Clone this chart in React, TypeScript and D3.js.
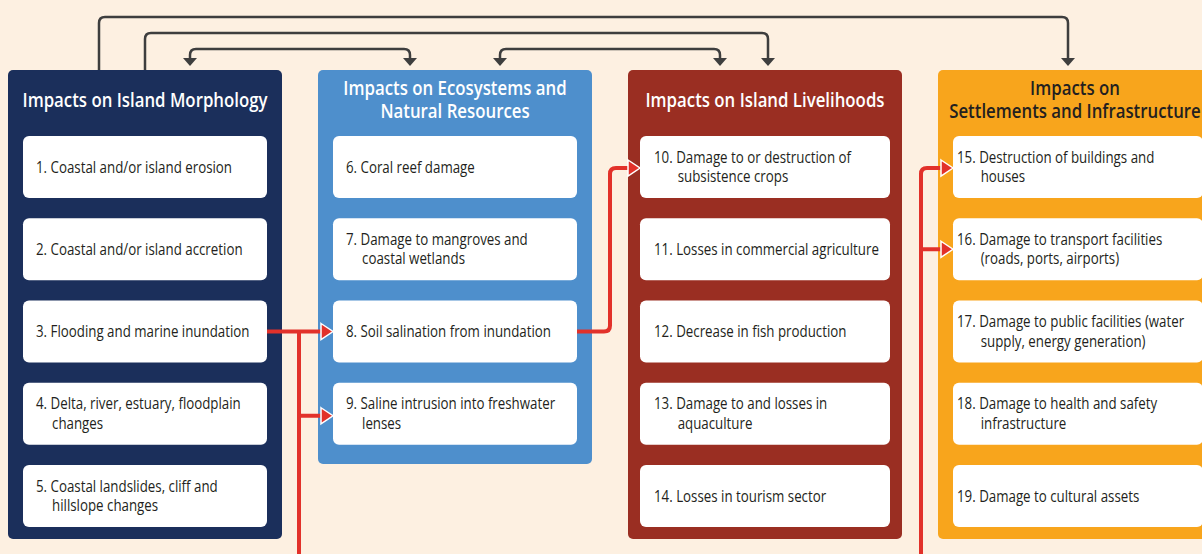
import React, { useEffect, useRef } from "react";
import * as d3 from "d3";

// ---------- DATA ----------
const panelTitles: string[][] = [
  ["Impacts on Island Morphology"],
  ["Impacts on Ecosystems and", "Natural Resources"],
  ["Impacts on Island Livelihoods"],
  ["Impacts on", "Settlements and Infrastructure"],
];

const morphologyItems: string[][] = [
  ["1. Coastal and/or island erosion"],
  ["2. Coastal and/or island accretion"],
  ["3. Flooding and marine inundation"],
  ["4. Delta, river, estuary, floodplain", "changes"],
  ["5. Coastal landslides, cliff and", "hillslope changes"],
];

const ecosystemItems: string[][] = [
  ["6. Coral reef damage"],
  ["7. Damage to mangroves and", "coastal wetlands"],
  ["8. Soil salination from inundation"],
  ["9. Saline intrusion into freshwater", "lenses"],
];

const livelihoodItems: string[][] = [
  ["10. Damage to or destruction of", "subsistence crops"],
  ["11. Losses in commercial agriculture"],
  ["12. Decrease in fish production"],
  ["13. Damage to and losses in", "aquaculture"],
  ["14. Losses in tourism sector"],
];

const settlementItems: string[][] = [
  ["15. Destruction of buildings and", "houses"],
  ["16. Damage to transport facilities", "(roads, ports, airports)"],
  ["17. Damage to public facilities (water", "supply, energy generation)"],
  ["18. Damage to health and safety", "infrastructure"],
  ["19. Damage to cultural assets"],
];

const panelItems = [morphologyItems, ecosystemItems, livelihoodItems, settlementItems];

// top (dark) links: source panel/anchor -> target panel/anchor, level, both-headed?
const topLinks = [
  { from: 0, fromAnchor: 0, to: 3, toAnchor: 0, level: 0, both: false },
  { from: 0, fromAnchor: 1, to: 2, toAnchor: 1, level: 1, both: false },
  { from: 0, fromAnchor: 2, to: 1, toAnchor: 0, level: 2, both: true },
  { from: 1, fromAnchor: 2, to: 2, toAnchor: 0, level: 2, both: true },
];

// ---------- STYLE / LAYOUT ----------
const W = 1202;
const H = 554;
const panelFill = ["#1B2F5B", "#4E8FCC", "#9A2E22", "#F8A51C"];
const titleFill = ["#FFFFFF", "#FFFFFF", "#FFFFFF", "#231F20"];
const panelW = 274;
const panelTop = 70;
const panelBottom = [539, 464, 539, 539];
const boxInset = [15, 15, 12, 15];
const boxW = [244, 244, 250, 250];
const textInset = [13, 13, 14, 4];
const boxH = 62;
const anchorOffsets = [
  [91, 137, 182],
  [92, 137, 182],
  [92, 140, 182],
  [130, 137, 182],
];
const levelScale = d3.scaleLinear().domain([0, 2]).range([17, 49]);
const FONT = "'Open Sans', 'Noto Sans', sans-serif";
const BODY_SIZE = 16;
const TITLE_SIZE = 19;
const BODY_REF = { text: "1. Coastal and/or island erosion", width: 196 };
const TITLE_REF = { text: "Impacts on Island Morphology", width: 245 };
const DARK = "#3E3E3E";
const RED = "#E2312A";

export default function App() {
  const ref = useRef<SVGSVGElement | null>(null);

  useEffect(() => {
    const svg = d3.select(ref.current);
    svg.selectAll("*").remove();

    const measure = (s: string, size: number, weight: string) => {
      const m = svg
        .append("text")
        .attr("font-family", FONT)
        .attr("font-size", size)
        .attr("font-weight", weight)
        .style("white-space", "pre")
        .text(s);
      const w = (m.node() as SVGTextElement).getComputedTextLength();
      m.remove();
      return w;
    };
    const bodyK = BODY_REF.width / measure(BODY_REF.text, BODY_SIZE, "normal");
    const titleK = TITLE_REF.width / measure(TITLE_REF.text, TITLE_SIZE, "600");

    const addText = (
      s: string,
      x: number,
      y: number,
      size: number,
      weight: string,
      fill: string,
      k: number,
      anchor: string
    ) => {
      const w = measure(s, size, weight) * k;
      svg
        .append("text")
        .attr("x", x)
        .attr("y", y)
        .attr("font-family", FONT)
        .attr("font-size", size)
        .attr("font-weight", weight)
        .attr("fill", fill)
        .attr("text-anchor", anchor)
        .attr("textLength", w)
        .attr("lengthAdjust", "spacingAndGlyphs")
        .text(s);
    };

    const xPanel = d3.scaleLinear().domain([0, 3]).range([8, 938]);
    const yRow = d3.scaleLinear().domain([0, 4]).range([136, 465]);

    svg.append("rect").attr("width", W).attr("height", H).attr("fill", "#FDF0E1");

    // panels
    panelTitles.forEach((title, p) => {
      const px = xPanel(p);
      svg
        .append("rect")
        .attr("x", px)
        .attr("y", panelTop)
        .attr("width", panelW)
        .attr("height", panelBottom[p] - panelTop)
        .attr("rx", 5)
        .attr("fill", panelFill[p]);

      const baselines = title.length === 1 ? [107] : [95, 118];
      title.forEach((line, i) => {
        addText(line, px + panelW / 2, baselines[i], TITLE_SIZE, "600", titleFill[p], titleK, "middle");
      });

      // boxes
      panelItems[p].forEach((lines, r) => {
        const bx = px + boxInset[p];
        const by = yRow(r);
        svg
          .append("rect")
          .attr("x", bx)
          .attr("y", by)
          .attr("width", boxW[p])
          .attr("height", boxH)
          .attr("rx", 6)
          .attr("fill", "#FFFFFF");
        const cy = by + boxH / 2;
        const tx = bx + textInset[p];
        if (lines.length === 1) {
          addText(lines[0], tx, cy + 5.5, BODY_SIZE, "normal", "#231F20", bodyK, "start");
        } else {
          addText(lines[0], tx, cy - 4.5, BODY_SIZE, "normal", "#231F20", bodyK, "start");
          const prefix = lines[0].split(" ")[0] + " ";
          const pw = measure(prefix, BODY_SIZE, "normal") * bodyK;
          addText(lines[1], tx + pw + 1.5, cy + 15, BODY_SIZE, "normal", "#231F20", bodyK, "start");
        }
      });
    });

    // dark top links
    const r = 6;
    const headY = 66;
    const lineEnd = 58;
    const darkHead = (x: number) => {
      svg
        .append("path")
        .attr("d", `M${x - 7},${lineEnd} L${x + 7},${lineEnd} L${x},${headY} Z`)
        .attr("fill", DARK);
    };
    topLinks.forEach((lk) => {
      const x1 = xPanel(lk.from) + anchorOffsets[lk.from][lk.fromAnchor];
      const x2 = xPanel(lk.to) + anchorOffsets[lk.to][lk.toAnchor];
      const y = levelScale(lk.level);
      const start = lk.both ? lineEnd : panelTop;
      svg
        .append("path")
        .attr(
          "d",
          `M${x1},${start} V${y + r} Q${x1},${y} ${x1 + r},${y} H${x2 - r} Q${x2},${y} ${x2},${y + r} V${lineEnd + 1}`
        )
        .attr("fill", "none")
        .attr("stroke", DARK)
        .attr("stroke-width", 2.5);
      darkHead(x2);
      if (lk.both) darkHead(x1);
    });

    // red links
    const boxLeft = (p: number) => xPanel(p) + boxInset[p];
    const boxRight = (p: number) => xPanel(p) + boxInset[p] + boxW[p];
    const rowC = (i: number) => yRow(i) + boxH / 2;
    const redPath = (d: string) =>
      svg
        .append("path")
        .attr("d", d)
        .attr("fill", "none")
        .attr("stroke", RED)
        .attr("stroke-width", 4);
    const redHead = (tipX: number, y: number) => {
      svg
        .append("path")
        .attr("d", `M${tipX - 12},${y - 8} L${tipX},${y} L${tipX - 12},${y + 8} Z`)
        .attr("fill", RED)
        .attr("stroke", "#FFFFFF")
        .attr("stroke-width", 1.5)
        .attr("stroke-linejoin", "miter");
    };

    // 3 -> 8, 9 with trunk down
    const trunk1 = 299;
    const y3 = rowC(2);
    redPath(`M${boxRight(0)},${y3} H${boxLeft(1) - 10}`);
    redPath(`M${trunk1},${y3} V${H}`);
    const y9 = rowC(3) + 2;
    redPath(`M${trunk1},${y9} H${boxLeft(1) - 10}`);
    redHead(boxLeft(1), y3);
    redHead(boxLeft(1), y9);

    // 8 -> 10
    const elbow = 610;
    const y10 = rowC(0) + 1;
    redPath(
      `M${boxRight(1)},${y3} H${elbow - r} Q${elbow},${y3} ${elbow},${y3 - r} V${y10 + r} Q${elbow},${y10} ${elbow + r},${y10} H${boxLeft(2) - 10}`
    );
    redHead(boxLeft(2), y10);

    // trunk -> 15, 16
    const trunk2 = 921;
    redPath(
      `M${trunk2},${H} V${y10 + r} Q${trunk2},${y10} ${trunk2 + r},${y10} H${boxLeft(3) - 10}`
    );
    const y16 = rowC(1);
    redPath(`M${trunk2},${y16} H${boxLeft(3) - 10}`);
    redHead(boxLeft(3), y10);
    redHead(boxLeft(3), y16);
  }, []);

  return (
    <svg
      ref={ref}
      width={W}
      height={H}
      style={{ position: "absolute", left: 0, top: 0, display: "block" }}
    />
  );
}
